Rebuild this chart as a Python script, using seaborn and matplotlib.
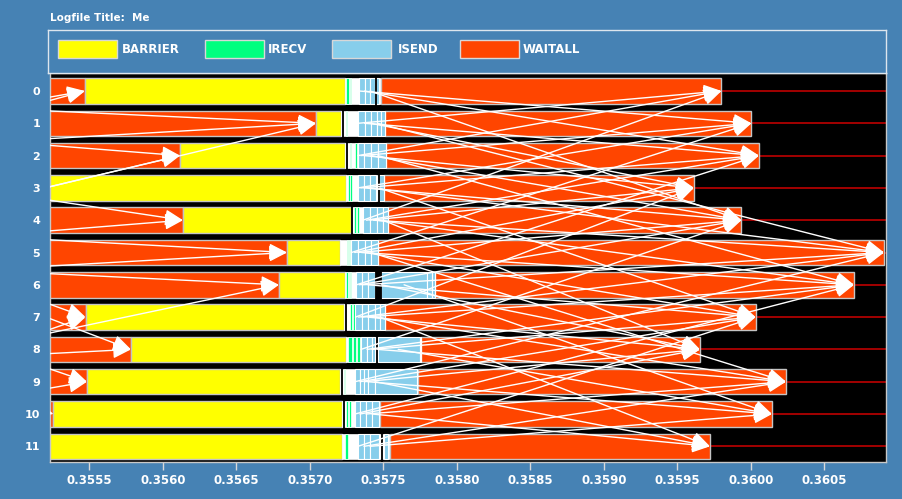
#!/usr/bin/env python3
"""
Jumpshot-style MPI timeline: states per rank (Gantt bars) with message arrows.
"""

import numpy as np
import seaborn as sns
import matplotlib
matplotlib.use("Agg")
import matplotlib.pyplot as plt
from matplotlib.patches import Rectangle, FancyArrowPatch

# ---------------- data (times in seconds) ----------------
ranks = list(range(12))
states = ["BARRIER", "IRECV", "ISEND", "WAITALL"]
state_colors = ["#FFFF00", "#00FF7F", "#87CEEB", "#FF4500"]

wait1_start = [0.35500] * 12
barrier_start = [0.355469, 0.357041, 0.356116, 0.355100, 0.356136, 0.356844,
                 0.356789, 0.355473, 0.355782, 0.355483, 0.355255, 0.355100]
barrier_end = [0.357241, 0.357214, 0.357241, 0.357243, 0.357276, 0.357204,
               0.357238, 0.357233, 0.357248, 0.357207, 0.357216, 0.357218]
wait2_start = [0.357483, 0.357510, 0.357517, 0.357503, 0.357534, 0.357466,
               0.357850, 0.357510, 0.357755, 0.357738, 0.357473, 0.357544]
wait2_end = [0.359799, 0.360003, 0.360054, 0.359612, 0.359935, 0.360905,
             0.360701, 0.360031, 0.359653, 0.360238, 0.360143, 0.359721]

irecv_rank = [0, 0, 1, 2, 2, 3, 3, 4, 4, 5, 5, 6, 6, 6, 7, 7, 8, 8, 8, 9, 10, 10, 11]
irecv_start = [0.357245, 0.357272, 0.357245, 0.357272, 0.357309, 0.357258, 0.357275,
               0.357299, 0.357323, 0.357252, 0.357265, 0.357248, 0.357262, 0.357272,
               0.357272, 0.357292, 0.357258, 0.357292, 0.357320, 0.357231,
               0.357248, 0.357265, 0.357238]
irecv_end = [0.357265, 0.357282, 0.357255, 0.357279, 0.357320, 0.357272, 0.357289,
             0.357313, 0.357333, 0.357258, 0.357275, 0.357258, 0.357272, 0.357279,
             0.357286, 0.357306, 0.357286, 0.357313, 0.357340, 0.357241,
             0.357258, 0.357282, 0.357260]

isend_rank = [0, 0, 0, 0, 1, 1, 1, 1, 1, 2, 2, 2, 2, 3, 3, 3, 3, 4, 4, 4, 4,
              5, 5, 5, 5, 6, 6, 6, 6, 6, 6, 7, 7, 7, 7, 7, 8, 8, 8, 8, 8,
              9, 9, 9, 9, 9, 10, 10, 10, 10, 11, 11, 11, 11]
isend_start = [0.357333, 0.357371, 0.357408, 0.357452,
               0.357326, 0.357371, 0.357415, 0.357459, 0.357486,
               0.357326, 0.357367, 0.357415, 0.357462,
               0.357326, 0.357367, 0.357408, 0.357469,
               0.357360, 0.357408, 0.357456, 0.357496,
               0.357282, 0.357326, 0.357374, 0.357415,
               0.357316, 0.357354, 0.357394, 0.357486, 0.357796, 0.357830,
               0.357309, 0.357354, 0.357394, 0.357442, 0.357476,
               0.357347, 0.357388, 0.357422, 0.357462, 0.357748,
               0.357306, 0.357340, 0.357369, 0.357392, 0.357442,
               0.357306, 0.357340, 0.357381, 0.357422,
               0.357326, 0.357367, 0.357408, 0.357503]
isend_end = [0.357371, 0.357408, 0.357439, 0.357472,
             0.357371, 0.357415, 0.357459, 0.357486, 0.357510,
             0.357367, 0.357415, 0.357462, 0.357517,
             0.357367, 0.357408, 0.357449, 0.357503,
             0.357408, 0.357456, 0.357496, 0.357534,
             0.357326, 0.357374, 0.357415, 0.357466,
             0.357354, 0.357394, 0.357439, 0.357796, 0.357830, 0.357850,
             0.357354, 0.357394, 0.357442, 0.357476, 0.357510,
             0.357388, 0.357422, 0.357445, 0.357748, 0.357755,
             0.357340, 0.357369, 0.357392, 0.357442, 0.357731,
             0.357340, 0.357381, 0.357422, 0.357472,
             0.357367, 0.357408, 0.357469, 0.357534]

# black gaps / event lines inside the send-recv cluster
marker_rank = [0, 1, 2, 3, 4, 6, 7, 8, 9, 10, 11]
marker_start = [0.357443, 0.357216, 0.357245, 0.357460, 0.357279, 0.357439,
                0.357239, 0.357449, 0.357212, 0.357223, 0.357483]
marker_end = [0.357452, 0.357224, 0.357253, 0.357469, 0.357288, 0.357486,
              0.357247, 0.357458, 0.357220, 0.357231, 0.357492]

# messages of this iteration: isend time on src -> end of WAITALL on dst
msg_src = [0, 0, 0,
           1, 1, 1, 1,
           2, 2, 2, 2, 2,
           3, 3, 3, 3, 3,
           4, 4, 4, 4, 4, 4,
           5, 5, 5, 5, 5, 5,
           6, 6, 6, 6, 6, 6,
           7, 7, 7, 7, 7, 7,
           8, 8, 8, 8, 8,
           9, 9, 9, 9, 9,
           10, 10, 10, 10,
           11, 11, 11]
msg_dst = [1, 2, 4,
           0, 2, 3, 5,
           0, 1, 3, 4, 6,
           1, 2, 4, 5, 7,
           0, 2, 3, 5, 6, 8,
           1, 3, 4, 6, 7, 9,
           2, 4, 5, 7, 8, 10,
           3, 5, 6, 8, 9, 11,
           4, 6, 7, 9, 10,
           5, 7, 8, 10, 11,
           6, 8, 9, 11,
           7, 9, 10]
msg_send = [0.357333, 0.357371, 0.357408,
            0.357326, 0.357371, 0.357415, 0.357459,
            0.357326, 0.357346, 0.357367, 0.357415, 0.357462,
            0.357326, 0.357346, 0.357367, 0.357408, 0.357469,
            0.357360, 0.357384, 0.357408, 0.357432, 0.357456, 0.357496,
            0.357282, 0.357304, 0.357326, 0.357350, 0.357374, 0.357415,
            0.357316, 0.357335, 0.357354, 0.357394, 0.357486, 0.357640,
            0.357309, 0.357330, 0.357354, 0.357394, 0.357442, 0.357476,
            0.357347, 0.357388, 0.357422, 0.357462, 0.357600,
            0.357306, 0.357340, 0.357369, 0.357392, 0.357442,
            0.357306, 0.357340, 0.357381, 0.357422,
            0.357326, 0.357367, 0.357408]

# messages of the previous iteration, received at end of first WAITALL
prev_src = [4, 1, 5, 0, 2, 3, 1, 3, 5, 4, 6, 5, 10, 6, 11, 7, 9, 8, 10, 9]
prev_dst = [0, 0, 1, 1, 1, 2, 2, 4, 4, 5, 5, 6, 6, 7, 7, 8, 8, 9, 9, 10]
prev_send = [0.352218, 0.354211, 0.353354, 0.352306, 0.353224, 0.355197, 0.353313,
             0.354673, 0.353394, 0.352735, 0.352986, 0.352258, 0.352612, 0.354864,
             0.352925, 0.355204, 0.351490, 0.354843, 0.354211, 0.354483]

x_ticks = [0.3555, 0.3560, 0.3565, 0.3570, 0.3575, 0.3580,
           0.3585, 0.3590, 0.3595, 0.3600, 0.3605]
x_range = (0.3552313, 0.3609184)
logfile_title = "Logfile Title:  Me"

# ---------------- style ----------------
BG = "#4682B4"
EDGE = "#c4c4c4"
BAR_H = 0.79

sns.set_style("dark", {"axes.facecolor": "black"})
plt.rcParams["font.family"] = ["DejaVu Sans"]
plt.rcParams["font.weight"] = "bold"
pal = dict(zip(states, sns.color_palette(state_colors)))

W, H = 902, 499
fig = plt.figure(figsize=(W / 100, H / 100), dpi=100, facecolor=BG)

# ---------------- main timeline ----------------
ax = fig.add_axes([50 / W, 1 - 461.5 / H, 836 / W, 388.5 / H], facecolor="black")
ax.hlines(ranks, 0, 1, transform=ax.get_yaxis_transform(), color="#b00000", lw=1.3, zorder=1)


def bars(y, start, end, color, edge, lw, z, h=BAR_H):
    start = np.asarray(start)
    end = np.asarray(end)
    ax.barh(y, end - start, left=start, height=h, color=color,
            edgecolor=edge, linewidth=lw, zorder=z)


bars(ranks, wait1_start, barrier_start, pal["WAITALL"], EDGE, 1.0, 2)
bars(ranks, barrier_start, barrier_end, pal["BARRIER"], EDGE, 1.0, 2)
bars(ranks, barrier_end, wait2_start, "white", "white", 0.5, 2)
bars(ranks, wait2_start, wait2_end, pal["WAITALL"], EDGE, 1.0, 2)
bars(irecv_rank, irecv_start, irecv_end, pal["IRECV"], "white", 0.5, 3)
bars(isend_rank, isend_start, isend_end, pal["ISEND"], "white", 0.8, 3)
bars(marker_rank, marker_start, marker_end, "black", "black", 0.6, 4, h=BAR_H + 0.2)

arrow_style = "-|>,head_length=1.0,head_width=0.45"
for s, d, t0 in zip(msg_src, msg_dst, msg_send):
    ax.add_patch(FancyArrowPatch((t0, s), (wait2_end[d], d), arrowstyle=arrow_style,
                                 mutation_scale=11, color="white", lw=1.0,
                                 shrinkA=0, shrinkB=0, zorder=5))
for s, d, t0 in zip(prev_src, prev_dst, prev_send):
    ax.add_patch(FancyArrowPatch((t0, s), (barrier_start[d], d), arrowstyle=arrow_style,
                                 mutation_scale=11, color="white", lw=1.0,
                                 shrinkA=0, shrinkB=0, zorder=5))

ax.set_xlim(*x_range)
ax.set_ylim(11.47, -0.557)
ax.set_yticks(ranks)
ax.set_yticklabels([str(r) for r in ranks])
ax.set_xticks(x_ticks)
ax.set_xticklabels([f"{t:.4f}" for t in x_ticks])
ax.tick_params(axis="y", length=0, pad=7, labelcolor="white", labelsize=8)
ax.tick_params(axis="x", bottom=True, length=6, width=1, color="#d8d8d8", direction="out",
               pad=3, labelcolor="white", labelsize=8.5)
ax.grid(False)
for sp in ax.spines.values():
    sp.set_visible(True)
    sp.set_color("#c8c8c8")
    sp.set_linewidth(1)

# ---------------- legend box ----------------
leg = fig.add_axes([48 / W, 1 - 73 / H, 838 / W, 43 / H], facecolor=BG)
leg.set_xlim(48, 886)
leg.set_ylim(73, 30)
leg.set_xticks([])
leg.set_yticks([])
for sp in leg.spines.values():
    sp.set_visible(True)
    sp.set_color("#dde6ee")
    sp.set_linewidth(1)
patch_x = [58, 205, 332, 460]
label_x = [122, 268, 398, 523]
for name, px, lx in zip(states, patch_x, label_x):
    leg.add_patch(Rectangle((px, 40), 59, 18, facecolor=pal[name], edgecolor="#d8d8d8", lw=1))
    leg.text(lx, 49, name, color="white", fontsize=8.5, fontweight="bold",
             ha="left", va="center")

fig.text(50 / W, 1 - 18 / H, logfile_title, color="white", fontsize=7.5,
         fontweight="bold", ha="left", va="center")

fig.savefig("out.png", dpi=100, facecolor=BG)
